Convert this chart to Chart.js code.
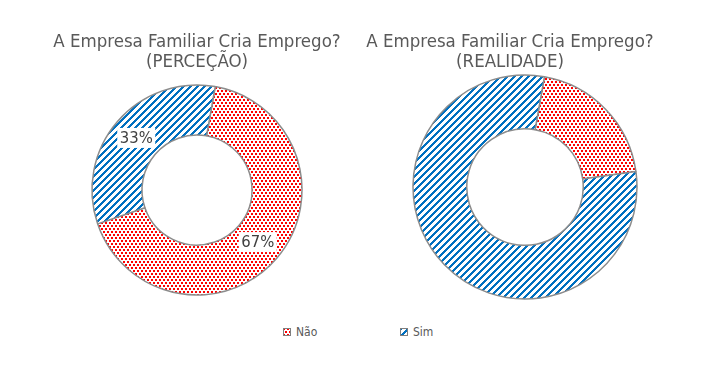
<!DOCTYPE html>
<html>
<head>
<meta charset="utf-8">
<script src="https://cdn.jsdelivr.net/npm/chart.js@4.4.0/dist/chart.umd.min.js"></script>
<style>
    body { margin: 0; background: #fff; }
    #wrap { position: relative; width: 709px; height: 370px; overflow: hidden;
            font-family: "DejaVu Sans Condensed", "DejaVu Sans", sans-serif; color: #595959; }
    canvas.chart { position: absolute; top: 0; }
    #left { left: 37px; }
    #right { left: 365px; }
    .title { position: absolute; top: 31px; width: 340px; text-align: center; font-size: 18.5px; line-height: 20px; }
    .legend-item { position: absolute; top: 325px; font-size: 12px; line-height: 14px; }
    .legend-item canvas { position: absolute; left: 0; top: 3px; }
    .legend-item span { position: absolute; left: 13px; top: 0; white-space: nowrap; }
</style>
</head>
<body>
<div id="wrap">
    <canvas id="left" class="chart" width="320" height="300"></canvas>
    <canvas id="right" class="chart" width="320" height="300"></canvas>
    <div class="title" id="titleLeft" style="left:27px"></div>
    <div class="title" id="titleRight" style="left:340px"></div>
    <div class="legend-item" style="left:283px"><canvas id="swNao" width="8" height="8"></canvas><span id="lgNao"></span></div>
    <div class="legend-item" style="left:400px"><canvas id="swSim" width="8" height="8"></canvas><span id="lgSim"></span></div>
</div>
<script>
// --- Data ---
const categories = ['Não', 'Sim'];
const percecaoValues = [67, 33];
const realidadeValues = [20, 80];
const percecaoTitle = ['A Empresa Familiar Cria Emprego?', '(PERCEÇÃO)'];
const realidadeTitle = ['A Empresa Familiar Cria Emprego?', '(REALIDADE)'];

const fontFamily = '"DejaVu Sans Condensed", "DejaVu Sans", sans-serif';
const borderGray = '#8c8c8c';

// titles + legend text
document.getElementById('titleLeft').innerHTML = percecaoTitle.join('<br>');
document.getElementById('titleRight').innerHTML = realidadeTitle.join('<br>');
document.getElementById('lgNao').textContent = categories[0];
document.getElementById('lgSim').textContent = categories[1];

// Build a pixel pattern tile from a test function
const makeTile = (w, h, color, isOn) => {
    const c = document.createElement('canvas');
    c.width = w; c.height = h;
    const ctx = c.getContext('2d');
    ctx.fillStyle = '#fff';
    ctx.fillRect(0, 0, w, h);
    ctx.fillStyle = color;
    for (let y = 0; y < h; y++) {
        for (let x = 0; x < w; x++) {
            if (isOn(x, y)) ctx.fillRect(x, y, 1, 1);
        }
    }
    return c;
};

// red staggered dots, blue upward diagonal stripes
const dotTile = makeTile(4, 6, '#ff0000', (x, y) =>
    (x < 2 && y < 2) || (x >= 2 && y >= 3 && y < 5));
const stripeTile = makeTile(7, 7, '#0070c0', (x, y) => ((x + y) % 7) < 3);

// Percent labels with white box, drawn at the middle of each arc
const percentLabels = {
    id: 'percentLabels',
    afterDatasetsDraw(chart, args, opts) {
        if (!opts.show) return;
        const ctx = chart.ctx;
        const meta = chart.getDatasetMeta(0);
        const values = chart.data.datasets[0].data;
        ctx.save();
        ctx.font = '16.5px ' + fontFamily;
        ctx.textAlign = 'center';
        ctx.textBaseline = 'middle';
        meta.data.forEach((arc, i) => {
            const pos = arc.tooltipPosition();
            const text = values[i] + '%';
            const w = ctx.measureText(text).width + 5;
            const h = 20;
            ctx.fillStyle = '#fff';
            ctx.fillRect(pos.x - w / 2, pos.y - h / 2, w, h);
            ctx.fillStyle = '#404040';
            ctx.fillText(text, pos.x, pos.y + 1);
        });
        ctx.restore();
    }
};

const makeDonut = (canvasId, values, radius, cutout, padding, showLabels) => {
    const ctx = document.getElementById(canvasId).getContext('2d');
    return new Chart(ctx, {
        type: 'doughnut',
        data: {
            labels: categories,
            datasets: [{
                data: values,
                backgroundColor: [ctx.createPattern(dotTile, 'repeat'), ctx.createPattern(stripeTile, 'repeat')],
                borderColor: borderGray,
                borderWidth: 1.5,
                clip: false
            }]
        },
        options: {
            responsive: false,
            animation: false,
            rotation: 10,
            radius: radius,
            cutout: cutout,
            layout: { padding: padding },
            plugins: {
                legend: { display: false },
                tooltip: { enabled: false },
                percentLabels: { show: showLabels }
            }
        },
        plugins: [percentLabels]
    });
};

makeDonut('left', percecaoValues, 105, '52.4%', { top: 85, bottom: 5 }, true);
makeDonut('right', realidadeValues, 112, '52%', { top: 80, bottom: 6 }, false);

// legend swatches
const drawSwatch = (id, tile) => {
    const c = document.getElementById(id).getContext('2d');
    c.fillStyle = c.createPattern(tile, 'repeat');
    c.fillRect(0, 0, 8, 8);
    c.strokeStyle = '#7f7f7f';
    c.lineWidth = 1;
    c.strokeRect(0.5, 0.5, 7, 7);
};
drawSwatch('swNao', dotTile);
drawSwatch('swSim', stripeTile);
</script>
</body>
</html>
